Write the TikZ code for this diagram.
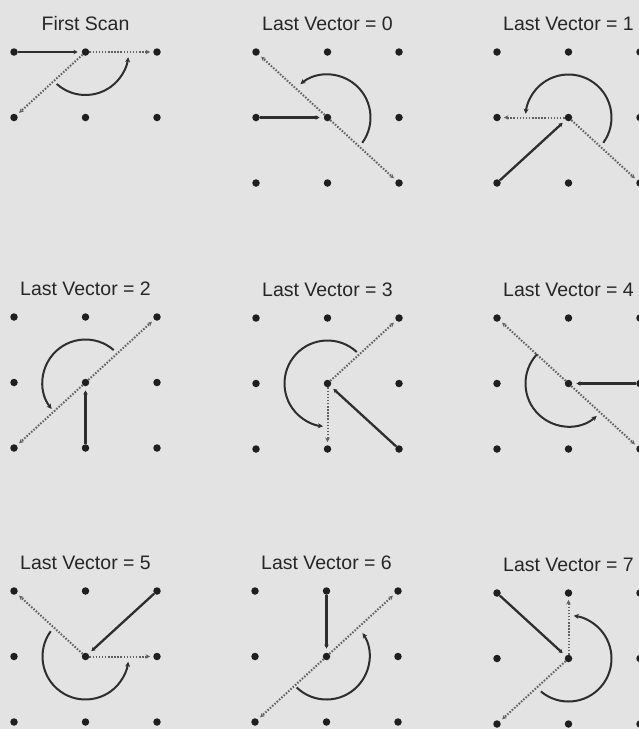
\documentclass[tikz,border=0pt]{standalone}
\usepackage{fontspec}
\setmainfont{Liberation Sans}
\usetikzlibrary{arrows.meta}
\tikzset{
    pix/.style={circle, fill=black!88, inner sep=0pt, minimum size=7.5pt},
    paneltitle/.style={anchor=base, font=\fontsize{19.5}{22}\selectfont, text=black!85},
    lastvec/.style={line width=2.3pt, draw=black!82, -{Stealth[length=4pt,width=4.5pt]}, shorten >=4pt},
    scanvec/.style={line width=2pt, draw=black!62, dash pattern=on 1.5pt off 1.6pt, -{Stealth[length=4.5pt,width=4.5pt]}, shorten >=3pt},
    scanarc/.style={line width=2pt, draw=black!82, -{Stealth[length=5pt,width=5pt]}}
}
\newcommand{\pixgrid}[1][2]{%
    \foreach \c in {0,1,2}
        \foreach \r in {0,...,#1}
            \node (n\c\r) [pix] at (71.5*\c,-65.5*\r) {};
}

\begin{document}
\begin{tikzpicture}[x=1pt, y=1pt]
    \fill [black!11] (0,0) rectangle (639,-729);
    \useasboundingbox (0,0) rectangle (639,-729);

    % first scan
    \begin{scope}[shift={(14,-52)}, name prefix=fs-]
        \pixgrid[1]
        \node (title) [paneltitle] at (71.5,22) {First Scan};
        \draw [lastvec] (n00) -- (n10);
        \draw [scanvec] (n10) -- (n20);
        \draw [scanvec] (n10) -- (n01);
        \draw [scanarc] (n10.center) ++(228:43) arc[start angle=228, end angle=353, radius=43];
    \end{scope}

    % last vector = 0
    \begin{scope}[shift={(256,-52)}, name prefix=lv0-]
        \pixgrid
        \node (title) [paneltitle] at (71.5,22) {Last Vector = 0};
        \draw [lastvec] (n01) -- (n11);
        \draw [scanvec] (n11) -- (n00);
        \draw [scanvec] (n11) -- (n22);
        \draw [scanarc] (n11.center) ++(324:43) arc[start angle=324, end angle=489, radius=43];
    \end{scope}

    % last vector = 1
    \begin{scope}[shift={(497,-52)}, name prefix=lv1-]
        \pixgrid
        \node (title) [paneltitle] at (71.5,22) {Last Vector = 1};
        \draw [lastvec] (n02) -- (n11);
        \draw [scanvec] (n11) -- (n01);
        \draw [scanvec] (n11) -- (n22);
        \draw [scanarc] (n11.center) ++(324:43) arc[start angle=324, end angle=535, radius=43];
    \end{scope}

    % last vector = 2
    \begin{scope}[shift={(14,-317)}, name prefix=lv2-]
        \pixgrid
        \node (title) [paneltitle] at (71.5,22) {Last Vector = 2};
        \draw [lastvec] (n12) -- (n11);
        \draw [scanvec] (n11) -- (n02);
        \draw [scanvec] (n11) -- (n20);
        \draw [scanarc] (n11.center) ++(49:43) arc[start angle=49, end angle=218, radius=43];
    \end{scope}

    % last vector = 3
    \begin{scope}[shift={(256,-318)}, name prefix=lv3-]
        \pixgrid
        \node (title) [paneltitle] at (71.5,22) {Last Vector = 3};
        \draw [lastvec] (n22) -- (n11);
        \draw [scanvec] (n11) -- (n20);
        \draw [scanvec] (n11) -- (n12);
        \draw [scanarc] (n11.center) ++(47:43) arc[start angle=47, end angle=264, radius=43];
    \end{scope}

    % last vector = 4
    \begin{scope}[shift={(497,-318)}, name prefix=lv4-]
        \pixgrid
        \node (title) [paneltitle] at (71.5,22) {Last Vector = 4};
        \draw [lastvec] (n21) -- (n11);
        \draw [scanvec] (n11) -- (n00);
        \draw [scanvec] (n11) -- (n22);
        \draw [scanarc] (n11.center) ++(137:43) arc[start angle=137, end angle=311, radius=43];
    \end{scope}

    % last vector = 5
    \begin{scope}[shift={(14,-591)}, name prefix=lv5-]
        \pixgrid
        \node (title) [paneltitle] at (71.5,22) {Last Vector = 5};
        \draw [lastvec] (n20) -- (n11);
        \draw [scanvec] (n11) -- (n00);
        \draw [scanvec] (n11) -- (n21);
        \draw [scanarc] (n11.center) ++(144:43) arc[start angle=144, end angle=353, radius=43];
    \end{scope}

    % last vector = 6
    \begin{scope}[shift={(255,-591)}, name prefix=lv6-]
        \pixgrid
        \node (title) [paneltitle] at (71.5,22) {Last Vector = 6};
        \draw [lastvec] (n10) -- (n11);
        \draw [scanvec] (n11) -- (n20);
        \draw [scanvec] (n11) -- (n02);
        \draw [scanarc] (n11.center) ++(226:43) arc[start angle=226, end angle=393, radius=43];
    \end{scope}

    % last vector = 7
    \begin{scope}[shift={(497,-593)}, name prefix=lv7-]
        \pixgrid
        \node (title) [paneltitle] at (71.5,22) {Last Vector = 7};
        \draw [lastvec] (n00) -- (n11);
        \draw [scanvec] (n11) -- (n10);
        \draw [scanvec] (n11) -- (n02);
        \draw [scanarc] (n11.center) ++(230:43) arc[start angle=230, end angle=443, radius=43];
    \end{scope}
\end{tikzpicture}
\end{document}
